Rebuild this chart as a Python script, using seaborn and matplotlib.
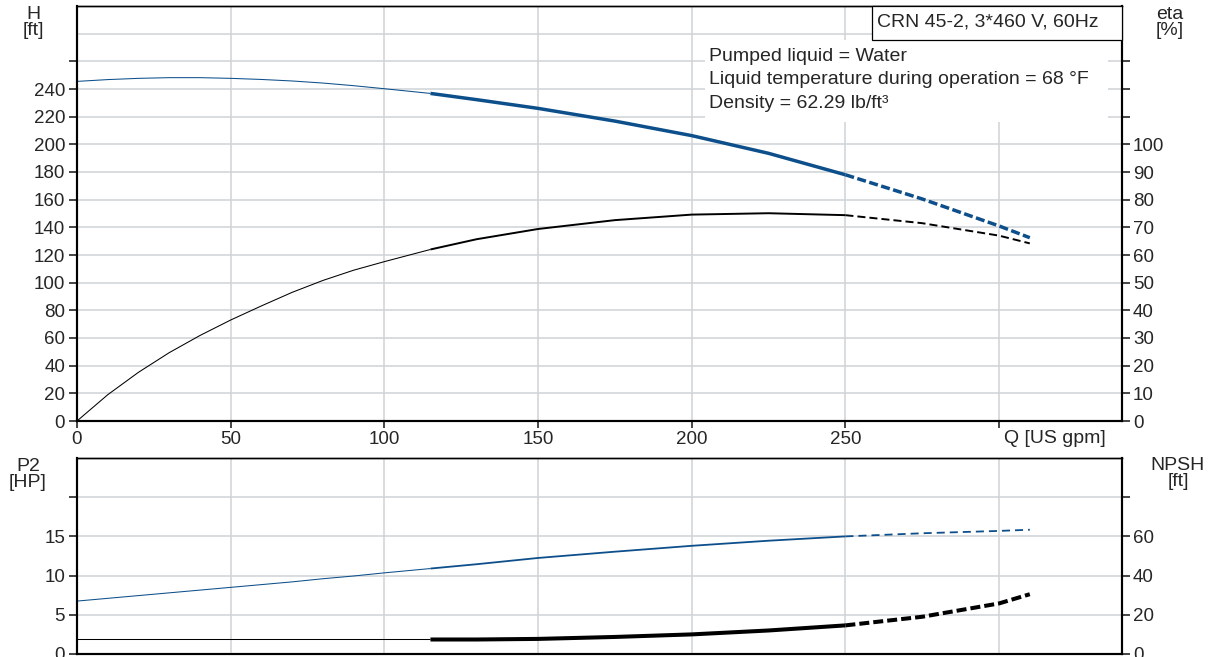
# pump performance curves: CRN 45-2, two panels (H/eta and P2/NPSH)

import matplotlib
matplotlib.use('Agg')
import matplotlib.pyplot as plt
from matplotlib.patches import Rectangle
import pandas as pd
import seaborn as sns

# flow [US gpm]
q = [0, 10, 20, 30, 40, 50, 60, 70, 80, 90, 100, 115, 130, 150, 175,
     200, 225, 250, 275, 300, 310]
# head [ft]
head = [245.5, 246.8, 247.7, 248.2, 248.2, 247.7, 246.9, 245.8, 244.3, 242.4,
        240.2, 236.8, 232.3, 226.0, 216.8, 206.3, 193.5, 178.0, 160.5, 141.0, 132.5]
# efficiency [%]
eta = [0.0, 9.5, 17.6, 24.7, 30.9, 36.5, 41.6, 46.5, 50.8, 54.5,
       57.6, 62.0, 65.7, 69.4, 72.6, 74.6, 75.1, 74.4, 71.5, 67.0, 64.2]
# shaft power [HP]
p2 = [6.75, 7.1, 7.45, 7.8, 8.15, 8.5, 8.85, 9.2, 9.6, 9.95,
      10.35, 10.9, 11.45, 12.25, 13.05, 13.8, 14.45, 15.0, 15.4, 15.7, 15.85]
# npsh [ft]
npsh = [7.4, 7.4, 7.4, 7.4, 7.4, 7.4, 7.4, 7.4, 7.4, 7.4,
        7.4, 7.4, 7.4, 7.7, 8.7, 10.0, 12.0, 14.6, 19.0, 25.8, 30.5]

x_ticks = [0, 50, 100, 150, 200, 250, 300]
x_labels = ['0', '50', '100', '150', '200', '250', '']

BLUE = '#0d4f8b'
GRID = '#d0d3d6'
W, H = 1211, 657
TICK_FS = 13.5
TEXT_FS = 14

df = pd.DataFrame({'q': q, 'head': head, 'eta': eta, 'p2': p2, 'npsh': npsh})


def draw_curve(ax, col, color, thick, dash):
    thin = df[df['q'] <= 115]
    mid = df[(df['q'] >= 115) & (df['q'] <= 250)]
    ext = df[df['q'] >= 250]
    sns.lineplot(data=thin, x='q', y=col, ax=ax, color=color, lw=0.75)
    sns.lineplot(data=mid, x='q', y=col, ax=ax, color=color, lw=thick)
    sns.lineplot(data=ext, x='q', y=col, ax=ax, color=color, lw=thick,
                 linestyle=(0, dash))
    ax.set_xlabel('')
    ax.set_ylabel('')


def style_axes(ax, ax2):
    for a in (ax, ax2):
        for s in a.spines.values():
            s.set_linewidth(1.5)
            s.set_color('black')
        a.spines['top'].set_linewidth(1.0)
    ax.set_xlim(0, 340)
    ax.set_xticks(x_ticks)
    ax.grid(True, color=GRID, lw=1.1)
    ax.set_axisbelow(True)
    ax.tick_params(axis='y', direction='out', length=5.5, width=1.2,
                   pad=3, labelsize=TICK_FS, left=True)
    ax.tick_params(axis='x', direction='out', length=5, width=1.2,
                   pad=2.5, labelsize=TICK_FS, bottom=True)
    ax2.tick_params(axis='y', direction='out', length=5.5, width=1.2,
                    pad=2.5, labelsize=TICK_FS, right=True)


sns.set_style('white')
plt.rcParams['font.family'] = ['Liberation Sans', 'DejaVu Sans']
plt.rcParams['lines.scale_dashes'] = False
plt.rcParams['lines.solid_capstyle'] = 'butt'

fig = plt.figure(figsize=(W / 100, H / 100), dpi=100)

# ---- top panel: H and eta
ax = fig.add_axes([77 / W, (H - 421) / H, 1045 / W, 415 / H])
ax2 = ax.twinx()
draw_curve(ax, 'head', BLUE, 2.5, (6.5, 2.5))
draw_curve(ax2, 'eta', 'black', 1.4, (5.8, 2.9))
ax.set_ylim(0, 300)
ax2.set_ylim(0, 150)
style_axes(ax, ax2)
ax.set_xticklabels(x_labels)
ax.set_yticks(range(0, 261, 20))
ax.set_yticklabels([str(v) if v <= 240 else '' for v in range(0, 261, 20)])
ax.set_yticks([280], minor=True)
ax.tick_params(axis='y', which='minor', length=0)
ax.grid(True, which='minor', axis='y', color=GRID, lw=1.1)
ax2.set_yticks(range(0, 131, 10))
ax2.set_yticklabels([str(v) if v <= 100 else '' for v in range(0, 131, 10)])
ax.text(301.5, -0.041, 'Q [US gpm]', transform=ax.get_xaxis_transform(),
        ha='left', va='center', fontsize=TEXT_FS)

# info box
ax2.add_patch(Rectangle((0.601, 0.7205), 0.3856, 0.1975, transform=ax.transAxes,
                        facecolor='white', edgecolor='none', zorder=3))
for yy, txt in [(56, 'Pumped liquid = Water'),
                (80, 'Liquid temperature during operation = 68 °F'),
                (104, 'Density = 62.29 lb/ft³')]:
    ax2.text((709 - 77) / 1045, (421 - yy) / 415, txt, transform=ax.transAxes,
             ha='left', va='center', fontsize=TEXT_FS, zorder=4)
ax2.add_patch(Rectangle(((872 - 77) / 1045, (421 - 40) / 415),
                        (1122 - 872) / 1045, 34 / 415, transform=ax.transAxes,
                        facecolor='white', edgecolor='black', lw=0.9,
                        zorder=5, clip_on=False))
ax2.text((877 - 77) / 1045, (421 - 22) / 415, 'CRN 45-2, 3*460 V, 60Hz',
         transform=ax.transAxes, ha='left', va='center', fontsize=TEXT_FS,
         zorder=6)

# ---- bottom panel: P2 and NPSH
bx = fig.add_axes([77 / W, 3 / H, 1045 / W, 196 / H])
bx2 = bx.twinx()
draw_curve(bx, 'p2', BLUE, 1.3, (5.8, 3.6))
draw_curve(bx2, 'npsh', 'black', 2.9, (7.2, 2.9))
bx.set_ylim(0, 25)
bx2.set_ylim(0, 100)
style_axes(bx, bx2)
bx.tick_params(axis='x', labelbottom=False, length=0)
bx.set_yticks([0, 5, 10, 15, 20])
bx.set_yticklabels(['0', '5', '10', '15', ''])
bx2.set_yticks([0, 20, 40, 60, 80])
bx2.set_yticklabels(['0', '20', '40', '60', ''])

# axis titles
def label(xp, yp, txt):
    fig.text(xp / W, 1 - yp / H, txt, ha='center', va='top', fontsize=TEXT_FS,
             linespacing=0.95)

label(33, 6, 'H\n[ft]')
label(1170, 6, 'eta\n[%]')
label(28, 458, 'P2\n[HP]')
label(1178, 457, 'NPSH\n[ft]')

fig.savefig('out.png', dpi=100)
